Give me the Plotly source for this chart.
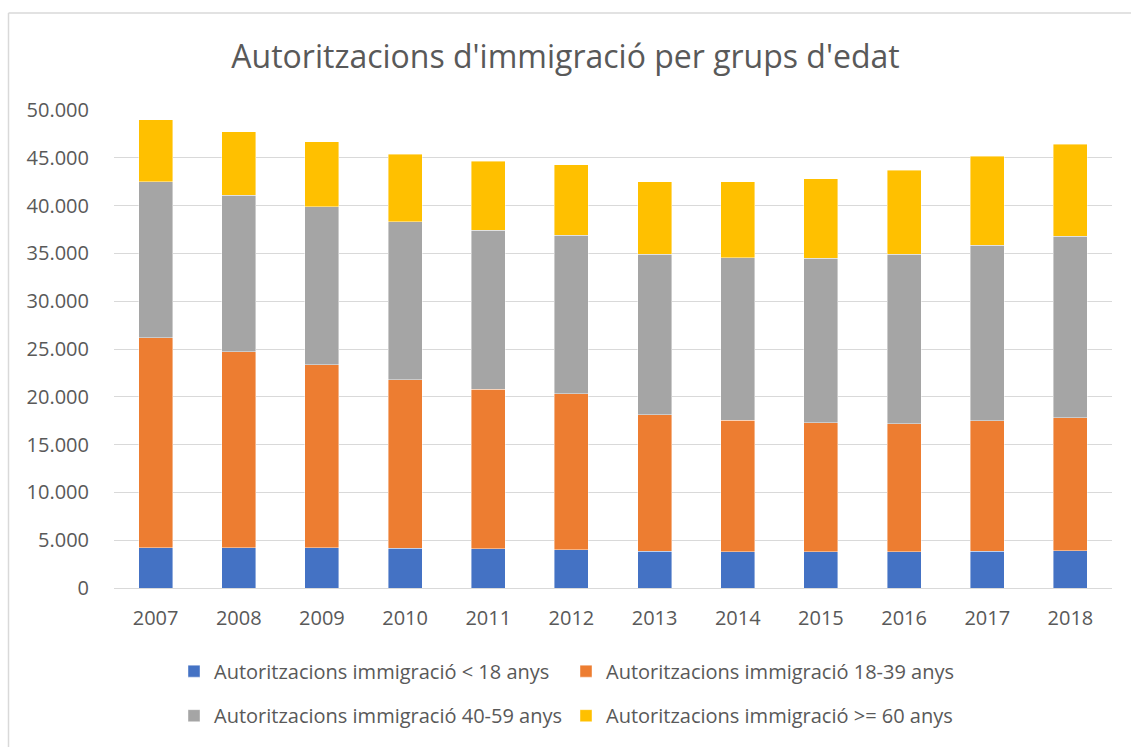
import plotly.graph_objects as go

years = ["2007", "2008", "2009", "2010", "2011", "2012", "2013", "2014", "2015", "2016", "2017", "2018"]
menors_18 = [4200, 4200, 4200, 4170, 4100, 3990, 3850, 3780, 3780, 3780, 3850, 3920]
edat_18_39 = [22000, 20490, 19130, 17630, 16700, 16320, 14280, 13750, 13510, 13410, 13620, 13890]
edat_40_59 = [16300, 16390, 16570, 16530, 16600, 16570, 16770, 17020, 17190, 17710, 18400, 19000]
majors_60 = [6460, 6660, 6770, 7020, 7220, 7390, 7600, 7950, 8330, 8820, 9270, 9610]

names = [
    "Autoritzacions immigració < 18 anys",
    "Autoritzacions immigració 18-39 anys",
    "Autoritzacions immigració 40-59 anys",
    "Autoritzacions immigració >= 60 anys",
]
colors = ["#4472C4", "#ED7D31", "#A5A5A5", "#FFC000"]
series = [menors_18, edat_18_39, edat_40_59, majors_60]
legends = ["legend", "legend", "legend2", "legend2"]

FONT = "Open Sans"
TXT = "#595959"

W, H = 1131, 747
L, R, T, B = 114, 19, 110, 154
PW, PH = W - L - R, H - T - B

fig = go.Figure()
for name, vals, col, lg in zip(names, series, colors, legends):
    fig.add_trace(go.Bar(
        x=years, y=vals, name=name,
        marker=dict(color=col, line=dict(color="rgba(255,255,255,0.6)", width=0.7)),
        legend=lg,
    ))

leg_common = dict(
    orientation="h", xanchor="left", yanchor="middle", traceorder="normal",
    font=dict(family=FONT, size=20, color=TXT),
    entrywidth=347, bgcolor="rgba(0,0,0,0)",
)

def px_x(p):
    return (p - L) / PW

def px_y(p):
    return (H - B - p) / PH

fig.update_layout(
    barmode="stack",
    bargap=0.59,
    width=W, height=H,
    margin=dict(l=L, r=R, t=T, b=B),
    paper_bgcolor="white", plot_bgcolor="white",
    separators=",.",
    title=dict(
        text="Autoritzacions d'immigració per grups d'edat",
        font=dict(family=FONT, size=32, color=TXT),
        x=0.5, xanchor="center", y=1 - 57 / H, yanchor="middle",
    ),
    font=dict(family=FONT, color=TXT),
    legend=dict(x=px_x(174), y=px_y(677), **leg_common),
    legend2=dict(x=px_x(174), y=px_y(722), **leg_common),
    xaxis=dict(
        showgrid=False, showline=True, linecolor="#d9d9d9", linewidth=1,
        ticks="", tickfont=dict(family=FONT, size=20, color=TXT),
        ticklabelstandoff=12,
    ),
    yaxis=dict(
        range=[0, 50000], dtick=5000, tickformat=",d",
        showgrid=True, gridcolor="#d9d9d9", gridwidth=1,
        zeroline=False, showline=False, ticks="",
        tickfont=dict(family=FONT, size=20, color=TXT),
        ticklabelstandoff=24,
    ),
    shapes=[
        dict(type="line", xref="paper", yref="paper",
             x0=px_x(8.5), x1=1.2, y0=px_y(12), y1=px_y(12),
             line=dict(color="#d9d9d9", width=1.5)),
        dict(type="line", xref="paper", yref="paper",
             x0=px_x(8.5), x1=px_x(8.5), y0=px_y(12), y1=-0.5,
             line=dict(color="#d9d9d9", width=1.5)),
    ],
)

fig.write_html(
    "out.html",
    config={"displayModeBar": False},
    post_script="document.body.style.margin='0';document.body.style.overflow='hidden';",
)
